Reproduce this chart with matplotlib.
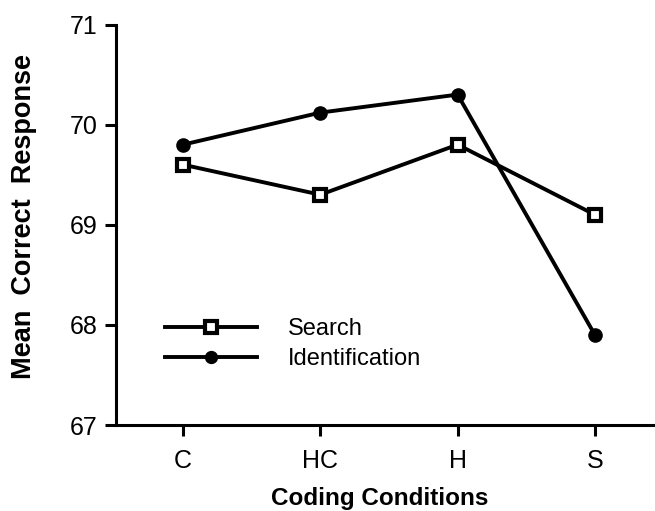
import matplotlib
matplotlib.use("Agg")
import matplotlib.pyplot as plt

plt.rcParams['font.family'] = ['Liberation Sans', 'DejaVu Sans']

categories = ["C", "HC", "H", "S"]
search = [69.6, 69.3, 69.8, 69.1]
identification = [69.8, 70.12, 70.3, 67.9]
yticks = [67, 68, 69, 70, 71]

W, H = 655, 511
fig = plt.figure(figsize=(W / 100, H / 100), dpi=100)
ax = fig.add_axes([116 / W, 1 - 425 / H, 1 - 116 / W, (425 - 24.5) / H])

x = list(range(len(categories)))
ax.plot(x, search, color='black', lw=2.8, marker='s', markersize=9,
        markerfacecolor='white', markeredgecolor='black', markeredgewidth=3,
        label='Search', zorder=3)
ax.plot(x, identification, color='black', lw=2.8, marker='o', markersize=9.5,
        markerfacecolor='black', markeredgecolor='black',
        label='Identification', zorder=3)

step = 137.3
ax.set_xlim(-(183 - 116) / step, (655 - 183) / step)
ax.set_ylim(67, 71)
ax.set_xticks(x)
ax.set_xticklabels(categories)
ax.set_yticks(yticks)
ax.set_yticklabels([str(t) for t in yticks])

for s in ['top', 'right']:
    ax.spines[s].set_visible(False)
for s in ['left', 'bottom']:
    ax.spines[s].set_linewidth(2.2)
ax.tick_params(axis='both', direction='out', length=8, width=2.2,
               labelsize=18, colors='black')
ax.tick_params(axis='x', pad=9)
ax.tick_params(axis='y', pad=5)

ax.set_xlabel('Coding Conditions', fontsize=17.5, fontweight='bold')
ax.xaxis.set_label_coords(0.49, -0.155)
ax.set_ylabel('Mean  Correct  Response', fontsize=19.5, fontweight='bold')
ax.yaxis.set_label_coords(-0.147, 0.52)

leg = ax.legend(loc='upper left', bbox_to_anchor=(165 / W, 1 - 318 / H),
                bbox_transform=fig.transFigure, frameon=False, fontsize=17,
                handlelength=3.9, handletextpad=1.3, borderpad=0,
                borderaxespad=0, labelspacing=0.34, markerscale=0.9)

fig.savefig('out.png', dpi=100)
